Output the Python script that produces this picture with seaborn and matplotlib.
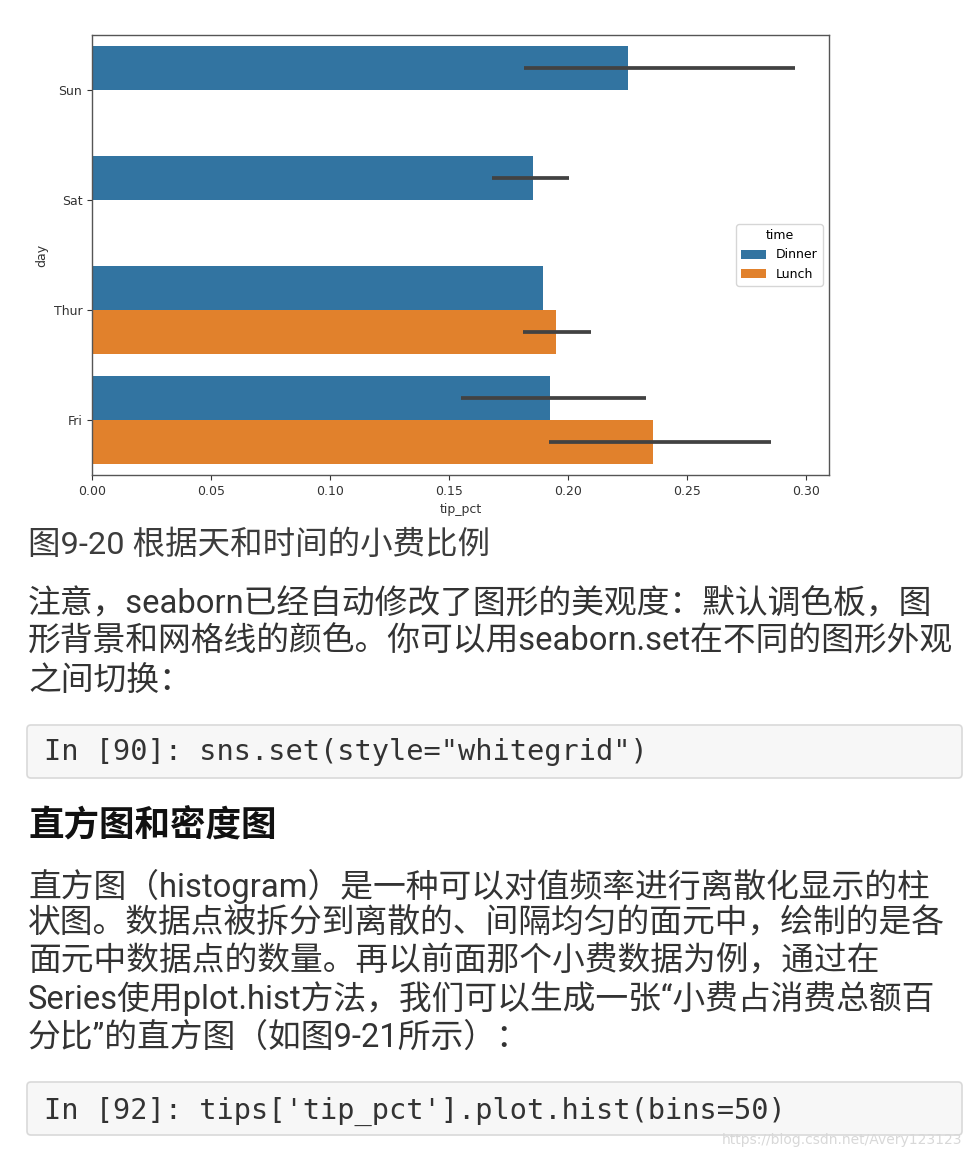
import matplotlib
matplotlib.use("Agg")
import matplotlib.pyplot as plt
from matplotlib.patches import FancyBboxPatch
import seaborn as sns
import pandas as pd
import numpy as np

# ---------------- data ----------------
days = ["Sun", "Sat", "Thur", "Fri"]
times = ["Dinner", "Lunch"]
bar_day = ["Sun", "Sat", "Thur", "Thur", "Fri", "Fri"]
bar_time = ["Dinner", "Dinner", "Dinner", "Lunch", "Dinner", "Lunch"]
bar_mean = [0.2252, 0.1850, 0.1894, 0.1947, 0.1923, 0.2357]
ci_low = [0.1813, 0.1679, np.nan, 0.1810, 0.1548, 0.1921]
ci_high = [0.2953, 0.2002, np.nan, 0.2097, 0.2325, 0.2851]

caption = "图9-20 根据天和时间的小费比例"
para1 = ["注意，seaborn已经自动修改了图形的美观度：默认调色板，图",
         "形背景和网格线的颜色。你可以用seaborn.set在不同的图形外观",
         "之间切换："]
code1 = 'In [90]: sns.set(style="whitegrid")'
heading = "直方图和密度图"
para2 = ["直方图（histogram）是一种可以对值频率进行离散化显示的柱",
         "状图。数据点被拆分到离散的、间隔均匀的面元中，绘制的是各",
         "面元中数据点的数量。再以前面那个小费数据为例，通过在",
         "Series使用plot.hist方法，我们可以生成一张“小费占消费总额百",
         "分比”的直方图（如图9-21所示）："]
code2 = "In [92]: tips['tip_pct'].plot.hist(bins=50)"
watermark = "https://blog.csdn.net/Avery123123"

df = pd.DataFrame({"day": bar_day, "time": bar_time, "tip_pct": bar_mean})

# ---------------- figure ----------------
W, H = 980, 1150
fig = plt.figure(figsize=(W / 100, H / 100), dpi=100)
fig.patch.set_facecolor("white")

def fx(px):
    return px / W

def fy(py):
    return 1 - py / H

ax_l, ax_r, ax_t, ax_b = 92, 829, 35, 475
ax = fig.add_axes([fx(ax_l), fy(ax_b), fx(ax_r - ax_l), (ax_b - ax_t) / H])

sns.barplot(data=df, x="tip_pct", y="day", hue="time", order=days,
            hue_order=times, orient="h", errorbar=None, ax=ax)

offsets = {"Dinner": -0.2, "Lunch": 0.2}
for d, t, lo, hi in zip(bar_day, bar_time, ci_low, ci_high):
    if np.isnan(lo):
        continue
    yy = days.index(d) + offsets[t]
    ax.hlines(yy, lo, hi, color="#424242", lw=2.7, zorder=5)

ax.set_xlim(0, 0.3095)
ax.set_ylim(3.5, -0.5)
ax.set_xticks([0.0, 0.05, 0.10, 0.15, 0.20, 0.25, 0.30])
ax.set_xticklabels(["0.00", "0.05", "0.10", "0.15", "0.20", "0.25", "0.30"])
ax.tick_params(labelsize=9, colors="#333333")
ax.set_xlabel("tip_pct", fontsize=9, color="#333333")
ax.set_ylabel("day", fontsize=9, color="#333333")
for s in ax.spines.values():
    s.set_color("#555555")
    s.set_linewidth(1.0)
sns.move_legend(ax, "center right", fontsize=9, title_fontsize=9,
                title="time")

# ---------------- text ----------------
body_fam = ["Roboto", "Noto Sans CJK SC", "DejaVu Sans"]
mono_fam = ["DejaVu Sans Mono", "Noto Sans CJK SC"]
BODY = 23.6

fig.text(fx(28), fy(545), caption, family=body_fam, fontsize=23.4,
         color="#3c3c3c", va="center", ha="left")

for txt, py in zip(para1, [604, 642, 682]):
    fig.text(fx(28), fy(py), txt, family=body_fam, fontsize=BODY,
             color="#333333", va="center", ha="left")

def code_box(top, bottom, txt, ty):
    box = FancyBboxPatch((fx(27), fy(bottom)), fx(962 - 27), (bottom - top) / H,
                         boxstyle="round,pad=0,rounding_size=0.004",
                         transform=fig.transFigure, facecolor="#f7f7f7",
                         edgecolor="#d9d9d9", linewidth=1.2,
                         mutation_aspect=W / H)
    fig.add_artist(box)
    fig.text(fx(44), fy(ty), txt, family=mono_fam, fontsize=20.6,
             color="#333333", va="center", ha="left")

code_box(725, 778, code1, 752)

fig.text(fx(28), fy(826), heading, family=["Noto Sans CJK SC"],
         fontsize=25.6, fontweight="bold", color="#111111",
         va="center", ha="left")

for txt, py in zip(para2, [886, 923, 961, 999, 1038]):
    fig.text(fx(28), fy(py), txt, family=body_fam, fontsize=BODY,
             color="#333333", va="center", ha="left")

code_box(1082, 1135, code2, 1111)

fig.text(fx(962), fy(1140), watermark, family=["DejaVu Sans"], fontsize=10,
         color="#d8d8d8", va="center", ha="right")

fig.savefig("out.png", dpi=100, facecolor="white")
